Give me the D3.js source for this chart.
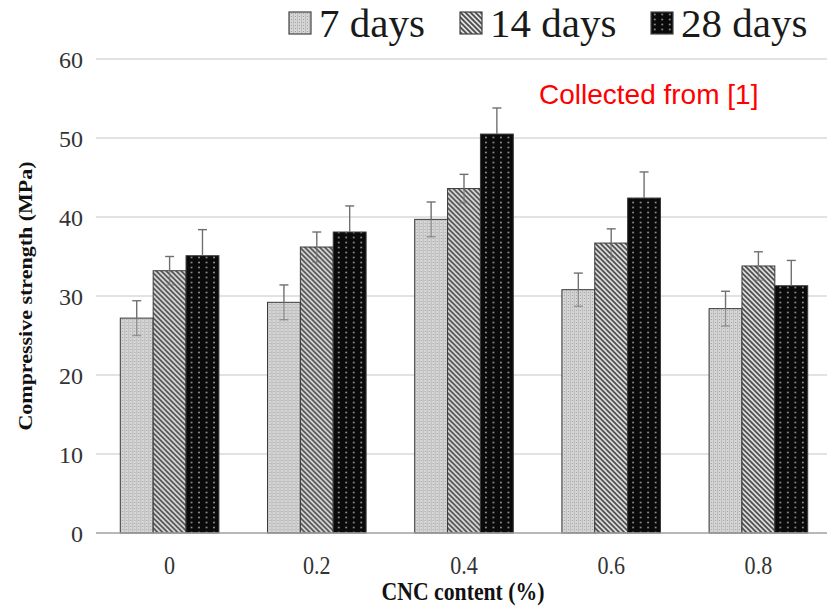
<!DOCTYPE html>
<html>
<head>
<meta charset="utf-8">
<script src="https://cdn.jsdelivr.net/npm/d3@7"></script>
<style>
  body { margin: 0; background: #fff; }
  svg { display: block; }
</style>
</head>
<body>
<div id="chart"></div>
<script>
// Data
const cncContent = ["0", "0.2", "0.4", "0.6", "0.8"];
const seriesNames = ["7 days", "14 days", "28 days"];
const strength7  = [27.2, 29.2, 39.7, 30.8, 28.4];
const strength14 = [33.2, 36.2, 43.6, 36.7, 33.8];
const strength28 = [35.1, 38.1, 50.5, 42.4, 31.3];
const error7  = [2.2, 2.2, 2.2, 2.1, 2.2];
const error14 = [1.8, 1.9, 1.8, 1.8, 1.8];
const error28 = [3.3, 3.3, 3.3, 3.3, 3.2];
const yTicks = [0, 10, 20, 30, 40, 50, 60];

// Layout
const width = 827, height = 613;
const plot = { left: 96, right: 832, top: 59, bottom: 533 };
const serif = "'Liberation Serif', 'Times New Roman', serif";

const values = [strength7, strength14, strength28];
const errors = [error7, error14, error28];
const data = cncContent.map((c, i) => ({
  cnc: c,
  bars: seriesNames.map((s, j) => ({ series: s, idx: j, value: values[j][i], err: errors[j][i] }))
}));

const svg = d3.select("#chart").append("svg")
  .attr("width", width)
  .attr("height", height);

// Fill patterns for the three curing ages
const defs = svg.append("defs");

const p7 = defs.append("pattern").attr("id", "p7")
  .attr("patternUnits", "userSpaceOnUse").attr("width", 4).attr("height", 3);
p7.append("rect").attr("width", 4).attr("height", 3).attr("fill", "#d6d6d6");
p7.append("rect").attr("x", 0).attr("width", 1).attr("height", 3).attr("fill", "#bbbbbb");
p7.append("rect").attr("x", 2).attr("y", 1).attr("width", 1).attr("height", 1).attr("fill", "#a0a0a0");

const p14 = defs.append("pattern").attr("id", "p14")
  .attr("patternUnits", "userSpaceOnUse").attr("width", 5).attr("height", 5);
p14.append("rect").attr("width", 5).attr("height", 5).attr("fill", "#e0e0e0");
p14.append("path")
  .attr("d", "M0,0L5,5M-1,4L1,6M4,-1L6,1")
  .attr("stroke", "#4a4a4a").attr("stroke-width", 1.7);

const p28 = defs.append("pattern").attr("id", "p28")
  .attr("patternUnits", "userSpaceOnUse").attr("width", 7.5).attr("height", 5);
p28.append("rect").attr("width", 7.5).attr("height", 5).attr("fill", "#0a0a0a");
p28.append("circle").attr("cx", 3.75).attr("cy", 2.5).attr("r", 0.9).attr("fill", "#9a9a9a");

const fills = ["url(#p7)", "url(#p14)", "url(#p28)"];

// Scales
const x0 = d3.scaleBand()
  .domain(cncContent)
  .range([plot.left, plot.right])
  .paddingInner(0.33)
  .paddingOuter(0.165);

const x1 = d3.scaleBand()
  .domain(seriesNames)
  .range([0, x0.bandwidth()]);

const y = d3.scaleLinear()
  .domain([0, 60])
  .range([plot.bottom, plot.top]);

// Gridlines
svg.append("g")
  .selectAll("line")
  .data(yTicks.filter(t => t > 0))
  .enter()
  .append("line")
  .attr("x1", plot.left)
  .attr("x2", width)
  .attr("y1", d => y(d))
  .attr("y2", d => y(d))
  .attr("stroke", "#d9d9d9")
  .attr("stroke-width", 1.3);

// Y tick labels (axis without domain/ticks)
const yAxisG = svg.append("g")
  .attr("transform", `translate(${plot.left - 13},0)`)
  .call(d3.axisLeft(y).tickValues(yTicks).tickSize(0).tickPadding(0));
yAxisG.select(".domain").remove();
yAxisG.selectAll("text")
  .attr("dy", "0.34em")
  .style("font-family", serif)
  .style("font-size", "24px")
  .attr("fill", "#333");

// Bars
const groups = svg.append("g")
  .selectAll("g")
  .data(data)
  .enter()
  .append("g")
  .attr("transform", d => `translate(${x0(d.cnc)},0)`);

groups.selectAll("rect")
  .data(d => d.bars)
  .enter()
  .append("rect")
  .attr("x", d => x1(d.series))
  .attr("y", d => y(d.value))
  .attr("width", x1.bandwidth())
  .attr("height", d => y(0) - y(d.value))
  .attr("fill", d => fills[d.idx])
  .attr("stroke", "#3a3a3a")
  .attr("stroke-width", 1);

// Error bars
const capHalf = 4.5;
const eb = groups.selectAll(".err")
  .data(d => d.bars)
  .enter()
  .append("g")
  .attr("class", "err")
  .attr("stroke", "#707070")
  .attr("stroke-width", 1.4);

eb.append("line")
  .attr("x1", d => x1(d.series) + x1.bandwidth() / 2)
  .attr("x2", d => x1(d.series) + x1.bandwidth() / 2)
  .attr("y1", d => y(d.value + d.err))
  .attr("y2", d => y(d.value));
eb.append("line")
  .attr("x1", d => x1(d.series) + x1.bandwidth() / 2)
  .attr("x2", d => x1(d.series) + x1.bandwidth() / 2)
  .attr("y1", d => y(d.value))
  .attr("y2", d => y(d.value - d.err))
  .attr("stroke-opacity", d => d.idx === 2 ? 0 : 0.6);
eb.append("line")
  .attr("x1", d => x1(d.series) + x1.bandwidth() / 2 - capHalf)
  .attr("x2", d => x1(d.series) + x1.bandwidth() / 2 + capHalf)
  .attr("y1", d => y(d.value + d.err))
  .attr("y2", d => y(d.value + d.err));
eb.append("line")
  .attr("x1", d => x1(d.series) + x1.bandwidth() / 2 - capHalf)
  .attr("x2", d => x1(d.series) + x1.bandwidth() / 2 + capHalf)
  .attr("y1", d => y(d.value - d.err))
  .attr("y2", d => y(d.value - d.err))
  .attr("stroke-opacity", d => d.idx === 2 ? 0 : 0.6);

// X axis baseline
svg.append("line")
  .attr("x1", plot.left)
  .attr("x2", width)
  .attr("y1", y(0))
  .attr("y2", y(0))
  .attr("stroke", "#a0a0a0")
  .attr("stroke-width", 1.6);

// X tick labels (slightly condensed like the source)
svg.append("g")
  .selectAll("text")
  .data(cncContent)
  .enter()
  .append("text")
  .attr("transform", d => `translate(${x0(d) + x0.bandwidth() / 2},574) scale(0.85,1)`)
  .attr("text-anchor", "middle")
  .style("font-family", serif)
  .style("font-size", "26px")
  .attr("fill", "#333")
  .text(d => d);

// Axis titles
svg.append("text")
  .attr("transform", `translate(463,600) scale(0.87,1)`)
  .attr("text-anchor", "middle")
  .style("font-family", serif)
  .style("font-size", "25px")
  .style("font-weight", "bold")
  .attr("fill", "#111")
  .text("CNC content (%)");

svg.append("text")
  .attr("transform", `translate(32,${(plot.top + plot.bottom) / 2}) rotate(-90) scale(1,0.85)`)
  .attr("text-anchor", "middle")
  .style("font-family", serif)
  .style("font-size", "22px")
  .style("font-weight", "bold")
  .attr("fill", "#111")
  .text("Compressive strength (MPa)");

// Legend
const legendX = [289, 460, 651];
const legend = svg.append("g")
  .selectAll("g")
  .data(seriesNames)
  .enter()
  .append("g")
  .attr("transform", (d, i) => `translate(${legendX[i]},12)`);

legend.append("rect")
  .attr("width", 22)
  .attr("height", 22)
  .attr("fill", (d, i) => fills[i])
  .attr("stroke", "#444")
  .attr("stroke-width", 1.2);

legend.append("text")
  .attr("x", 30)
  .attr("y", 25)
  .style("font-family", serif)
  .style("font-size", "41px")
  .attr("fill", "#1a1a1a")
  .text(d => d);

// Source note
svg.append("text")
  .attr("x", 539)
  .attr("y", 104)
  .style("font-family", "'Liberation Sans', Arial, sans-serif")
  .style("font-size", "28px")
  .attr("fill", "#ff0000")
  .text("Collected from [1]");
</script>
</body>
</html>
